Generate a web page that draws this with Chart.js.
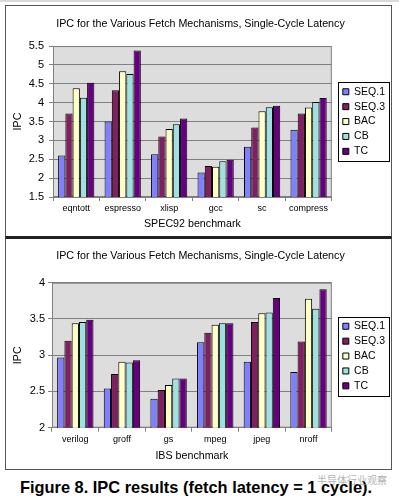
<!DOCTYPE html>
<html>
<head>
<meta charset="utf-8">
<script src="https://cdn.jsdelivr.net/npm/chart.js@4.4.1/dist/chart.umd.min.js"></script>
<style>
  body { margin: 0; width: 399px; height: 501px; background: #fff; position: relative; overflow: hidden; font-family: "Liberation Sans", Arial, sans-serif; }
  .strip { position: absolute; left: 0; top: 0; width: 399px; height: 2px; background: #d9d9d9; }
  .frame { position: absolute; left: 5px; width: 385px; border: 1px solid #555; }
  #top-frame { top: 5px; height: 230px; border-bottom-color: #222; }
  #bottom-frame { top: 237px; height: 230px; border-top: 2px solid #222; }
  canvas { display: block; }
  .caption { position: absolute; left: 0; top: 477px; width: 392px; text-align: center; font-weight: bold; font-size: 16.4px; line-height: 20px; color: #000; }
  .watermark { position: absolute; left: 317px; top: 472px; font-family: "Noto Sans CJK SC", sans-serif; font-size: 10px; color: rgba(150, 150, 150, 0.75); }
</style>
</head>
<body>
<div class="strip"></div>
<div class="frame" id="top-frame"><canvas id="spec-chart" width="385" height="230"></canvas></div>
<div class="frame" id="bottom-frame"><canvas id="ibs-chart" width="385" height="230"></canvas></div>
<div class="caption">Figure 8. IPC results (fetch latency = 1 cycle).</div>
<div class="watermark">半导体行业观察</div>

<script>
const chartTitle = "IPC for the Various Fetch Mechanisms, Single-Cycle Latency";
const seriesNames = ["SEQ.1", "SEQ.3", "BAC", "CB", "TC"];
const seriesColors = ["#8080ff", "#802060", "#ffffc8", "#a0e0e0", "#660080"];

// SPEC92
const specBenchmarks = ["eqntott", "espresso", "xlisp", "gcc", "sc", "compress"];
const specSeq1 = [2.60, 3.50, 2.63, 2.15, 2.83, 3.28];
const specSeq3 = [3.71, 4.33, 3.10, 2.32, 3.34, 3.71];
const specBac = [4.38, 4.83, 3.30, 2.30, 3.77, 3.87];
const specCb = [4.13, 4.76, 3.43, 2.45, 3.88, 4.02];
const specTc = [4.53, 5.38, 3.58, 2.49, 3.92, 4.12];
const specTicks = [1.5, 5.5, 0.5]; // min, max, step

// IBS
const ibsBenchmarks = ["verilog", "groff", "gs", "mpeg", "jpeg", "nroff"];
const ibsSeq1 = [2.97, 2.54, 2.40, 3.18, 2.91, 2.77];
const ibsSeq3 = [3.20, 2.74, 2.52, 3.31, 3.46, 3.19];
const ibsBac = [3.44, 2.91, 2.59, 3.42, 3.58, 3.78];
const ibsCb = [3.46, 2.90, 2.68, 3.44, 3.59, 3.64];
const ibsTc = [3.49, 2.93, 2.68, 3.44, 3.79, 3.91];
const ibsTicks = [2, 4, 0.5];

const fontFamily = "'Liberation Sans', Arial, sans-serif";

/* grey plot area like the old Excel chart */
const plotBackground = {
  id: "plotBackground",
  beforeDraw(chart) {
    const { ctx, chartArea: a } = chart;
    ctx.save();
    ctx.fillStyle = "#dddddd";
    ctx.fillRect(a.left, a.top, a.width, a.height);
    ctx.strokeStyle = "#808080";
    ctx.lineWidth = 1;
    ctx.strokeRect(a.left + 0.5, a.top + 0.5, a.width - 1, a.height - 1);
    ctx.restore();
  },
};

/* box round the legend */
const legendFrame = {
  id: "legendFrame",
  afterDraw(chart) {
    const boxes = chart.legend && chart.legend.legendHitBoxes;
    if (!boxes || !boxes.length) return;
    const left = Math.min(...boxes.map((b) => b.left)) - 5;
    const right = Math.max(...boxes.map((b) => b.left + b.width)) + 4;
    const top = Math.min(...boxes.map((b) => b.top)) - 4.5;
    const bottom = Math.max(...boxes.map((b) => b.top + b.height)) + 4;
    const ctx = chart.ctx;
    ctx.save();
    ctx.strokeStyle = "#000";
    ctx.lineWidth = 1;
    ctx.strokeRect(Math.round(left) + 0.5, Math.round(top) + 0.5, Math.round(right - left), Math.round(bottom - top));
    ctx.restore();
  },
};

function buildChart(canvasId, labels, series, ticks, xTitle, fit) {
  const ctx = document.getElementById(canvasId).getContext("2d");
  const datasets = series.map((values, i) => ({
    label: seriesNames[i],
    data: values,
    backgroundColor: seriesColors[i],
    borderColor: "#000",
    borderWidth: 1,
    yAxisID: "y",
  }));

  return new Chart(ctx, {
    type: "bar",
    data: { labels, datasets },
    plugins: [plotBackground, legendFrame],
    options: {
      responsive: false,
      animation: false,
      devicePixelRatio: 1,
      layout: { padding: { left: 0, right: -4, top: fit.top, bottom: fit.bottom } },
      datasets: { bar: { categoryPercentage: 0.78, barPercentage: 1 } },
      plugins: {
        title: {
          display: true,
          text: chartTitle,
          color: "#000",
          font: { family: fontFamily, size: 10.7, weight: "normal" },
          padding: fit.titlePad,
        },
        legend: {
          position: "right",
          labels: {
            boxWidth: 6,
            boxHeight: 6,
            padding: 4.4,
            color: "#000",
            font: { family: fontFamily, size: 10.5 },
          },
        },
        tooltip: { enabled: false },
      },
      scales: {
        x: {
          grid: { drawOnChartArea: false, color: "#808080", tickLength: 4, offset: true },
          border: { color: "#808080" },
          ticks: { color: "#000", font: { family: fontFamily, size: 9 }, padding: fit.xTickPad, maxRotation: 0, autoSkip: false },
          title: { display: true, text: xTitle, color: "#000", font: { family: fontFamily, size: 10.7 }, padding: 0 },
          afterFit(scale) { scale.height = fit.xHeight; },
        },
        y: {
          min: ticks[0],
          max: ticks[1],
          grid: { color: "#808080", tickLength: 4 },
          border: { color: "#808080" },
          ticks: { stepSize: ticks[2], color: "#000", font: { family: fontFamily, size: 11 }, padding: fit.yTickPad, callback: (v) => String(v) },
          title: { display: true, text: "IPC", color: "#000", font: { family: fontFamily, size: 10.7 }, padding: { top: 5.6, bottom: 0 } },
          afterFit(scale) { scale.width = fit.yWidth; },
        },
        // empty spacer between plot and legend
        gap: {
          position: "right",
          grid: { display: false },
          ticks: { display: false },
          border: { display: false },
          afterFit(scale) { scale.width = 6.6; },
        },
      },
    },
  });
}

buildChart("spec-chart", specBenchmarks, [specSeq1, specSeq3, specBac, specCb, specTc], specTicks, "SPEC92 benchmark", {
  top: 6.7, bottom: 5.6,
  titlePad: { top: 4.9, bottom: 15.6 },
  xTickPad: 2.6, xHeight: 33.4,
  yTickPad: 5, yWidth: 47,
});

buildChart("ibs-chart", ibsBenchmarks, [ibsSeq1, ibsSeq3, ibsBac, ibsCb, ibsTc], ibsTicks, "IBS benchmark", {
  top: 10.7, bottom: 6.6,
  titlePad: { top: 0, bottom: 20.2 },
  xTickPad: 2.9, xHeight: 34.7,
  yTickPad: 3, yWidth: 46,
});
</script>
</body>
</html>
